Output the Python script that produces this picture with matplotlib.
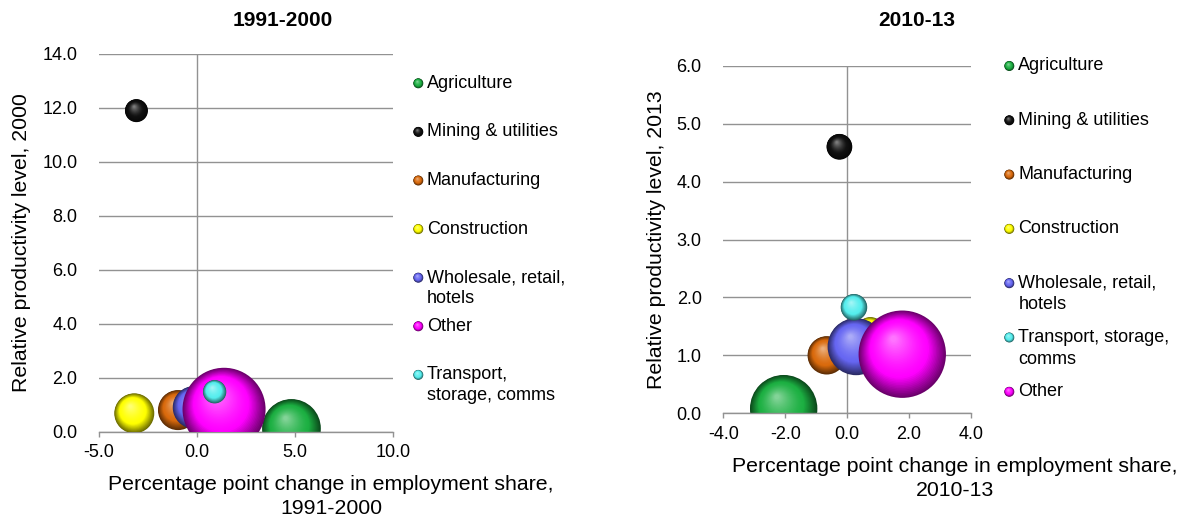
import numpy as np
import matplotlib
matplotlib.use("Agg")
import matplotlib.pyplot as plt
from matplotlib.transforms import ScaledTranslation
from matplotlib.path import Path
from matplotlib.colors import to_rgb

plt.rcParams["font.family"] = ["Liberation Sans", "DejaVu Sans"]
plt.rcParams["axes.unicode_minus"] = False

# ---- data -------------------------------------------------------------
sectors_a = ["Agriculture", "Mining & utilities", "Manufacturing", "Construction",
             "Wholesale, retail,\nhotels", "Other", "Transport,\nstorage, comms"]
emp_change_a = [4.82, -3.09, -0.97, -3.2, -0.15, 1.38, 0.9]
productivity_a = [0.12, 11.9, 0.8, 0.68, 0.9, 0.83, 1.48]
emp_share_a = [19.0, 2.9, 8.8, 8.8, 10.0, 38.0, 3.0]

sectors_b = ["Agriculture", "Mining & utilities", "Manufacturing", "Construction",
             "Wholesale, retail,\nhotels", "Transport, storage,\ncomms", "Other"]
emp_change_b = [-2.05, -0.25, -0.66, 0.75, 0.29, 0.22, 1.78]
productivity_b = [0.08, 4.6, 1.0, 1.4, 1.15, 1.83, 1.02]
emp_share_b = [22.6, 3.3, 7.3, 4.5, 16.2, 3.5, 38.0]

sector_colors = {
    "Agriculture": "#1CB042",
    "Mining & utilities": "#111111",
    "Manufacturing": "#DA6A0C",
    "Construction": "#FFFF00",
    "Wholesale, retail,\nhotels": "#6666F2",
    "Other": "#FF00FF",
    "Transport,\nstorage, comms": "#55EEEE",
    "Transport, storage,\ncomms": "#55EEEE",
}

xticks_a = [-5.0, 0.0, 5.0, 10.0]
yticks_a = [0.0, 2.0, 4.0, 6.0, 8.0, 10.0, 12.0, 14.0]
xticks_b = [-4.0, -2.0, 0.0, 2.0, 4.0]
yticks_b = [0.0, 1.0, 2.0, 3.0, 4.0, 5.0, 6.0]

W, H = 1186, 520
fig = plt.figure(figsize=(W / 100, H / 100), dpi=100)
fig.patch.set_facecolor("white")

GRID = "#929292"
TICK_FS = 13
LABEL_FS = 15.3


def shade(base, t):
    b = np.array(to_rgb(base))
    if t < 0.35:
        c = b * (0.42 + 0.58 * t / 0.35)
    else:
        u = (t - 0.35) / 0.65
        c = b + (1 - b) * 0.45 * u ** 1.4
    return np.clip(c, 0, 1)


def sphere(ax, x, y, diam_pts, base, zorder, n=36, hx=-0.2, hy=0.35, clip=True):
    """Glossy bubble built from stacked, shifted discs."""
    R = diam_pts / 2.0
    for k in range(n):
        t = k / (n - 1)
        r = R * (1 - 0.93 * t)
        tr = ax.transData + ScaledTranslation(hx * R * t / 72, hy * R * t / 72,
                                              ax.figure.dpi_scale_trans)
        sc = ax.scatter([x], [y], s=(2 * r) ** 2, color=[shade(base, t)],
                        edgecolors="none", transform=tr,
                        zorder=zorder + k * 1e-3, clip_on=clip)
        if clip:
            sc.set_clip_path(Path.unit_rectangle(), ax.transAxes)


def bubble_panel(rect, xs, ys, sizes, names, xticks, yticks, dmax_pts):
    ax = fig.add_axes(rect)
    ax.set_xlim(xticks[0], xticks[-1])
    ax.set_ylim(yticks[0], yticks[-1])
    ax.set_xticks(xticks)
    ax.set_yticks(yticks)
    ax.set_xticklabels([f"{v:.1f}" for v in xticks], fontsize=TICK_FS)
    ax.set_yticklabels([f"{v:.1f}" for v in yticks], fontsize=TICK_FS)
    for s in ("top", "right", "left"):
        ax.spines[s].set_visible(False)
    ax.spines["bottom"].set_color(GRID)
    ax.spines["bottom"].set_linewidth(1.0)
    ax.tick_params(axis="x", direction="out", length=3.6, width=1.0,
                   color=GRID, pad=5.5)
    ax.tick_params(axis="y", length=0, pad=15.6)
    ax.yaxis.grid(True, color=GRID, linewidth=1.0)
    ax.set_axisbelow(True)
    ax.axvline(0, color=GRID, linewidth=1.0, zorder=0.6)
    smax = max(sizes)
    for i, (x, y, s, nm) in enumerate(zip(xs, ys, sizes, names)):
        d = dmax_pts * np.sqrt(s / smax)
        sphere(ax, x, y, d, sector_colors[nm], zorder=2 + i)
    return ax


# axes rectangles in figure fractions
ax_a = bubble_panel([99 / W, (H - 431.7) / H, 294 / W, 377.7 / H],
                    emp_change_a, productivity_a, emp_share_a, sectors_a,
                    xticks_a, yticks_a, dmax_pts=59.8)
ax_b = bubble_panel([723.3 / W, (H - 413.3) / H, 247.7 / W, 347.6 / H],
                    emp_change_b, productivity_b, emp_share_b, sectors_b,
                    xticks_b, yticks_b, dmax_pts=62.9)

# overlay in pixel coordinates for titles, axis titles and legends
ov = fig.add_axes([0, 0, 1, 1], zorder=10)
ov.set_xlim(0, W)
ov.set_ylim(H, 0)
ov.axis("off")
ov.patch.set_visible(False)

ov.text(283, 21, "1991-2000", ha="center", va="center", fontsize=15,
        fontweight="bold")
ov.text(917, 21, "2010-13", ha="center", va="center", fontsize=15,
        fontweight="bold")

ov.text(22, 243, "Relative productivity level, 2000", rotation=90,
        ha="center", va="center", fontsize=LABEL_FS)
ov.text(656.7, 239.5, "Relative productivity level, 2013", rotation=90,
        ha="center", va="center", fontsize=LABEL_FS)

for cx, y0, lines in [(331, 484, ["Percentage point change in employment share,", "1991-2000"]),
                      (955, 466.5, ["Percentage point change in employment share,", "2010-13"])]:
    for j, ln in enumerate(lines):
        ov.text(cx, y0 + 24.4 * j, ln, ha="center", va="center", fontsize=LABEL_FS)


def legend(names, mx, tx, y0, step, gap):
    for i, nm in enumerate(names):
        y = y0 + step * i
        sphere(ov, mx, y, 7.2, sector_colors[nm], zorder=20, n=16, clip=False)
        for j, ln in enumerate(nm.split("\n")):
            ov.text(tx, y + gap * j, ln, ha="left", va="center", fontsize=TICK_FS)


legend(sectors_a, 418.3, 426.7, 83.3, 48.6, 21)
legend(sectors_b, 1009.3, 1018.3, 66, 54.3, 21.5)

fig.savefig("out.png", dpi=100, facecolor="white")
